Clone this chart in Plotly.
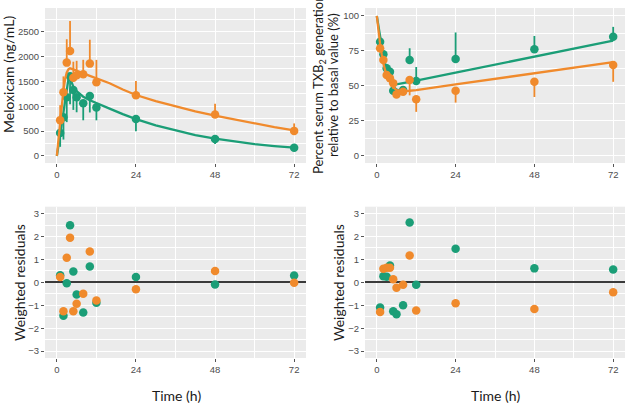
import plotly.graph_objects as go

# ---------------- data ----------------
times = [1, 2, 3, 4, 5, 6, 8, 10, 12, 24, 48, 72]

# PK: meloxicam concentration (ng/mL)
pk_orange = [720, 1278, 1875, 2110, 1573, 1621, 1641, 1855, 1480, 1218, 834, 504]
pk_orange_up = [300, 320, 470, 600, 320, 290, 290, 480, 450, 290, 215, 150]
pk_green = [464, 780, 1180, 1600, 1325, 1178, 1057, 1204, 976, 742, 343, 165]
pk_green_down = [280, 450, 500, 560, 400, 300, 340, 330, 260, 245, 100, 40]

pk_curve_t = [0, 0.5, 1, 1.5, 2, 2.5, 3, 3.5, 3.75, 4, 5, 6, 8, 10, 12, 16, 20, 24, 30, 36, 42, 48, 54, 60, 66, 72]
pk_curve_orange = [0, 370, 700, 1020, 1330, 1540, 1680, 1740, 1755, 1760, 1740, 1710, 1660, 1610, 1560, 1460, 1335, 1225, 1100, 990, 895, 810, 730, 650, 580, 515]
pk_curve_green = [0, 220, 440, 660, 880, 1100, 1320, 1540, 1650, 1560, 1390, 1300, 1190, 1120, 1060, 950, 840, 740, 615, 510, 420, 350, 290, 240, 200, 168]

# PD: percent serum TXB2 generation
pd_green = [81.6, 72.6, 62.6, 60.0, 46.5, 45.1, 47.0, 68.5, 53.5, 69.2, 76.2, 85.2]
pd_green_up = [3, 3, 3, 3, 2, 2, 2, 8.4, 10, 19, 9.5, 7]
pd_orange = [76.9, 68.5, 57.8, 55.4, 51.8, 43.9, 45.8, 54.2, 40.4, 46.5, 53.0, 64.9]
pd_orange_down = [3, 3, 3, 3, 4, 2, 2, 11, 9, 8.5, 11, 12]

pd_curve_t = [0, 0.5, 1, 1.5, 2, 3, 4, 5, 6, 8, 10, 12, 24, 36, 48, 60, 72]
pd_curve_green = [100, 92, 85, 77.5, 71, 61.5, 56, 51.5, 51, 51.8, 52.9, 53.8, 59.5, 65.3, 71.0, 76.8, 82.3]
pd_curve_orange = [100, 89, 80, 72.5, 66, 57, 52.5, 49, 47, 46.3, 46.5, 47, 51, 55, 59, 63, 67]

# Weighted residuals
res_pk_green = [0.31, -1.46, -0.04, 2.49, 0.47, -0.53, -1.32, 0.69, -0.89, 0.23, -0.09, 0.30]
res_pk_orange = [0.23, -1.26, 1.07, 1.95, -1.26, -0.93, -0.50, 1.35, -0.79, -0.30, 0.50, -0.02]
res_pd_green = [-1.10, 0.27, 0.24, 0.73, -1.26, -1.39, -1.00, 2.61, -0.10, 1.47, 0.61, 0.56]
res_pd_orange = [-1.29, 0.59, 0.64, 0.64, 0.14, -0.24, -0.10, 1.17, -1.23, -0.91, -1.16, -0.43]

x_ticks = [0, 24, 48, 72]
x_minor = [12, 36, 60]
pk_ticks = [0, 500, 1000, 1500, 2000, 2500]
pk_minor = [250, 750, 1250, 1750, 2250, 2750]
pd_ticks = [0, 25, 50, 75, 100]
pd_minor = [12.5, 37.5, 62.5, 87.5]
res_ticks = [-3, -2, -1, 0, 1, 2, 3]
res_minor = [-2.5, -1.5, -0.5, 0.5, 1.5, 2.5]

GREEN = "#1b9e77"
ORANGE = "#f08a2c"
W, H = 627, 403

fig = go.Figure()

def zeros(n):
    return [0] * n

def add_points(x, y, color, xa, ya, up=None, down=None):
    err = None
    if up is not None or down is not None:
        err = dict(type="data", symmetric=False,
                   array=up if up is not None else zeros(len(x)),
                   arrayminus=down if down is not None else zeros(len(x)),
                   thickness=1.8, width=0, color=color)
    fig.add_trace(go.Scatter(x=x, y=y, mode="markers", xaxis=xa, yaxis=ya,
                             marker=dict(size=8.5, color=color),
                             error_y=err, showlegend=False, hoverinfo="skip"))

def add_line(x, y, color, xa, ya):
    fig.add_trace(go.Scatter(x=x, y=y, mode="lines", xaxis=xa, yaxis=ya,
                             line=dict(color=color, width=2.3),
                             showlegend=False, hoverinfo="skip"))

# top-left
add_points(times, pk_green, GREEN, "x", "y", down=pk_green_down)
add_line(pk_curve_t, pk_curve_green, GREEN, "x", "y")
add_points(times, pk_orange, ORANGE, "x", "y", up=pk_orange_up)
add_line(pk_curve_t, pk_curve_orange, ORANGE, "x", "y")
# top-right
add_points(times, pd_green, GREEN, "x2", "y2", up=pd_green_up)
add_line(pd_curve_t, pd_curve_green, GREEN, "x2", "y2")
add_points(times, pd_orange, ORANGE, "x2", "y2", down=pd_orange_down)
add_line(pd_curve_t, pd_curve_orange, ORANGE, "x2", "y2")
# bottom
add_points(times, res_pk_green, GREEN, "x3", "y3")
add_points(times, res_pk_orange, ORANGE, "x3", "y3")
add_points(times, res_pd_green, GREEN, "x4", "y4")
add_points(times, res_pd_orange, ORANGE, "x4", "y4")

TICKFONT = dict(family="Liberation Sans, Arial, sans-serif", size=9.5, color="#4d4d4d")

def axis(domain, rng, tickvals, minor, anchor, zeroline=False):
    return dict(domain=domain, range=rng, tickmode="array", tickvals=tickvals,
                ticks="outside", ticklen=3, tickwidth=1, tickcolor="#555555",
                tickfont=TICKFONT, showgrid=True, gridcolor="white", gridwidth=1.2,
                minor=dict(tickvals=minor, showgrid=True, gridcolor="white", gridwidth=0.6, ticks=""),
                zeroline=zeroline, zerolinecolor="#3a3a3a", zerolinewidth=1.5,
                showline=False, anchor=anchor, fixedrange=True)

xl = [45 / W, 306 / W]
xr = [365 / W, 625 / W]
yt = [1 - 163 / H, 1 - 8 / H]
yb = [1 - 358 / H, 1 - 206.7 / H]
xrng = [-3.6, 75.6]

fig.update_layout(
    width=W, height=H, margin=dict(l=0, r=0, t=0, b=0),
    paper_bgcolor="white", plot_bgcolor="#ebebeb", showlegend=False,
    xaxis=axis(xl, xrng, x_ticks, x_minor, "y"),
    yaxis=axis(yt, [-141, 2972], pk_ticks, pk_minor, "x"),
    xaxis2=axis(xr, xrng, x_ticks, x_minor, "y2"),
    yaxis2=axis(yt, [-5.2, 105.7], pd_ticks, pd_minor, "x2"),
    xaxis3=axis(xl, xrng, x_ticks, x_minor, "y3"),
    yaxis3=axis(yb, [-3.3, 3.3], res_ticks, res_minor, "x3", zeroline=True),
    xaxis4=axis(xr, xrng, x_ticks, x_minor, "y4"),
    yaxis4=axis(yb, [-3.3, 3.3], res_ticks, res_minor, "x4", zeroline=True),
)

TFONT = dict(family="Lato, Open Sans, sans-serif", size=14, color="#1a1a1a")

def ann(text, px, py, angle=0, size=14):
    f = dict(TFONT)
    f["size"] = size
    fig.add_annotation(text=text, x=px / W, y=1 - py / H, xref="paper", yref="paper",
                       xanchor="center", yanchor="middle", textangle=angle,
                       showarrow=False, font=f)

ann("Meloxicam (ng/mL)", 9, 75, -90)
ann("Percent serum TXB<sub>2</sub> generation", 319, 85, -90, 13)
ann("relative to basal value (%)", 333, 85, -90, 13)
ann("Weighted residuals", 19, 283, -90)
ann("Weighted residuals", 338, 283, -90)
ann("Time (h)", 177, 395, 0)
ann("Time (h)", 496, 395, 0)

fig.write_html("out.html")
